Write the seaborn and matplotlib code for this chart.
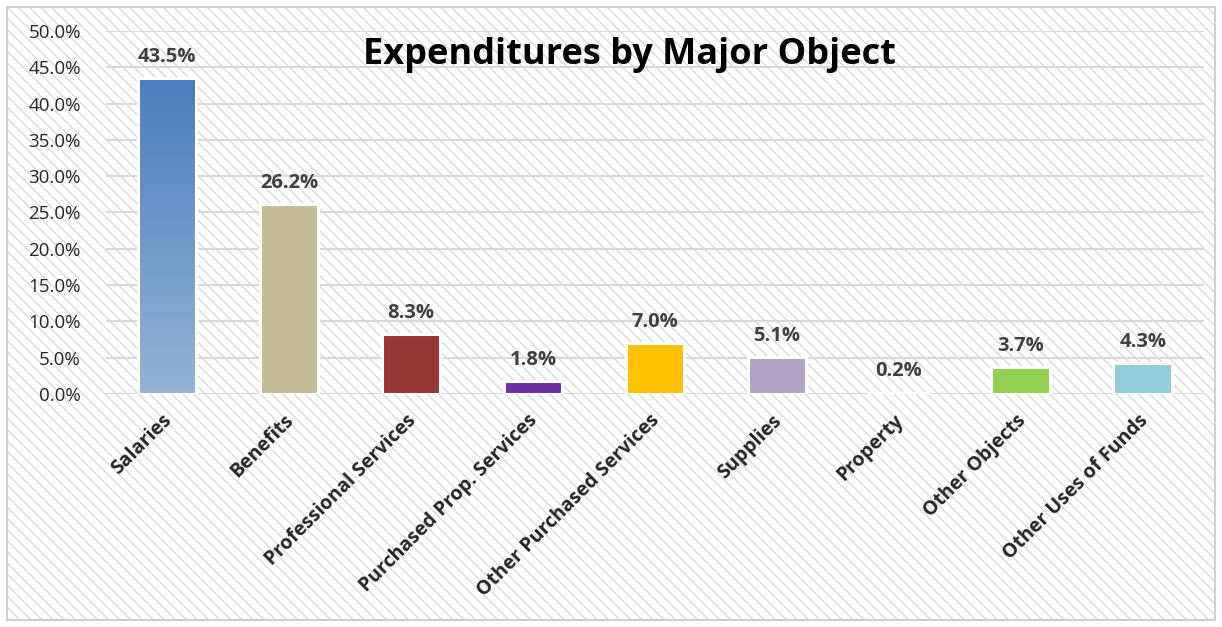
import numpy as np
import pandas as pd
import seaborn as sns
import matplotlib.pyplot as plt
import matplotlib.transforms as mtransforms
from matplotlib.patches import Rectangle
from matplotlib.ticker import PercentFormatter

categories = ['Salaries', 'Benefits', 'Professional Services', 'Purchased Prop. Services',
              'Other Purchased Services', 'Supplies', 'Property', 'Other Objects',
              'Other Uses of Funds']
shares = [43.5, 26.2, 8.3, 1.8, 7.0, 5.1, 0.2, 3.7, 4.3]
bar_colors = ['#6a95c9', '#c4bd97', '#953735', '#7030a0', '#ffc000',
              '#b3a2c7', '#ffffff', '#92d050', '#92cddc']

df = pd.DataFrame({'category': categories, 'share': shares})

sns.set_style('white')
plt.rcParams['font.family'] = ['Open Sans', 'DejaVu Sans']

fig = plt.figure(figsize=(12.22, 6.27), dpi=100)

# hatched background and frame
bg = Rectangle((0.006, 0.011), 0.988, 0.978, transform=fig.transFigure,
               facecolor='white', edgecolor='#dadada', hatch='\\\\\\', linewidth=0, zorder=-2)
fig.patches.append(bg)
frame = Rectangle((0.006, 0.011), 0.988, 0.978, transform=fig.transFigure,
                  facecolor='none', edgecolor='#d0d0d0', linewidth=1.5, zorder=-1)
fig.patches.append(frame)

ax = fig.add_axes([0.0867, 0.3716, 0.8983, 0.579])
ax.patch.set_alpha(0)

sns.barplot(data=df, x='category', y='share', hue='category', palette=bar_colors,
            legend=False, width=0.48, saturation=1, edgecolor='white', linewidth=2.2,
            ax=ax, zorder=3)

# gradient on the Salaries bar (dark at top, light at bottom)
p = ax.patches[0]
x0, w, h = p.get_x(), p.get_width(), p.get_height()
grad = np.linspace(0, 1, 256).reshape(-1, 1)
cmap = sns.blend_palette(['#95b3d7', '#4a7ebb'], as_cmap=True)
ax.imshow(grad, extent=[x0, x0 + w, 0, h], aspect='auto', cmap=cmap, zorder=3.5,
          origin='lower')
ax.add_patch(Rectangle((x0, 0), w, h, facecolor='none', edgecolor='white',
                       linewidth=2.2, zorder=4))

for i, v in enumerate(shares):
    ax.annotate(f'{v:.1f}%', (i, v), xytext=(0, 8), textcoords='offset points',
                ha='center', va='bottom', fontsize=14.5, fontweight='bold', color='#404040')

ax.set_xlim(-0.5, len(categories) - 0.5)
ax.set_ylim(0, 50)
ax.set_yticks(np.arange(0, 51, 5))
ax.yaxis.set_major_formatter(PercentFormatter(decimals=1))
ax.grid(axis='y', color='#d9d9d9', linewidth=1.5, zorder=0)
ax.set_axisbelow(True)
sns.despine(ax=ax, left=True, bottom=True)
ax.tick_params(axis='y', length=0, labelsize=13.5, pad=18)
ax.tick_params(axis='x', length=0, pad=12)
ax.set_xticks(range(len(categories)))
ax.set_xticklabels(categories, rotation=45, ha='right', rotation_mode='anchor',
                   fontsize=14, fontweight='bold')
shift = mtransforms.ScaledTranslation(-0.05, 0, fig.dpi_scale_trans)
for lbl in ax.get_xticklabels():
    lbl.set_transform(lbl.get_transform() + shift)
ax.set_xlabel('')
ax.set_ylabel('')

ax.text(0.477, 0.935, 'Expenditures by Major Object', transform=ax.transAxes,
        ha='center', va='center', fontsize=26, fontweight='bold', color='black')

fig.savefig('out.png', dpi=100)
